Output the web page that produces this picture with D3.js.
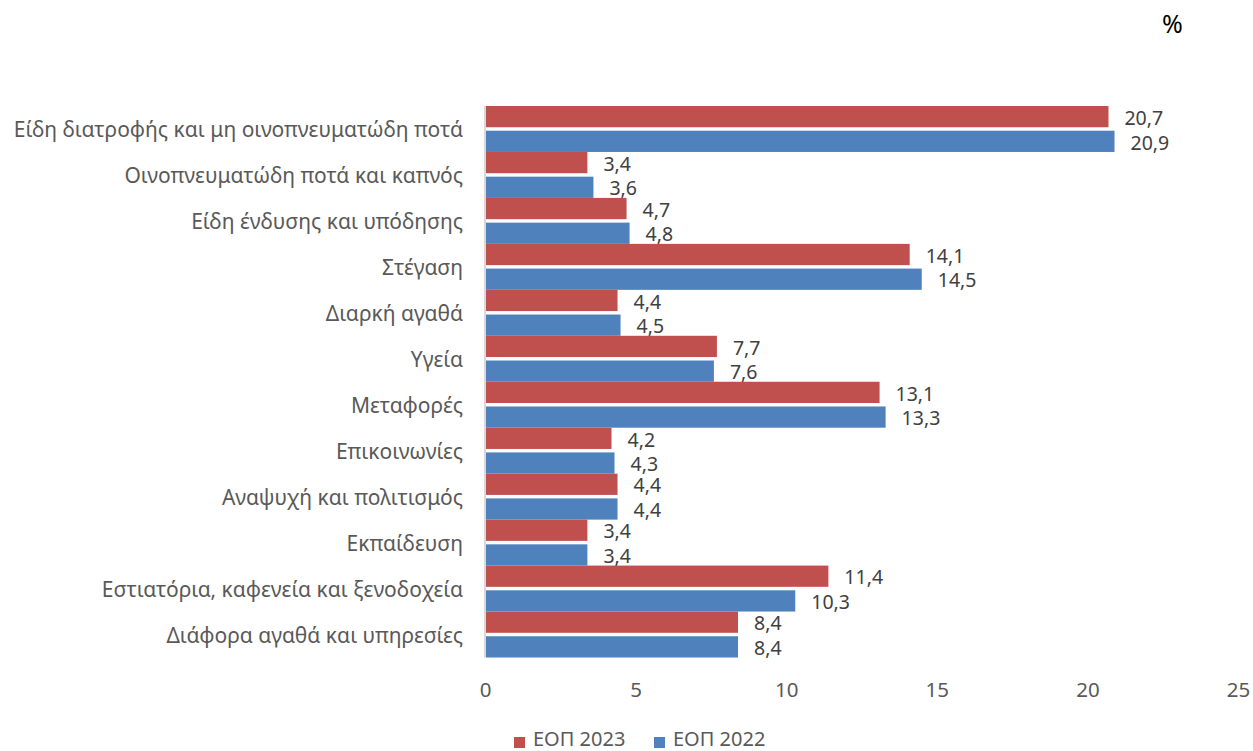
<!DOCTYPE html>
<html><head><meta charset="utf-8">
<script src="https://cdn.jsdelivr.net/npm/d3@7"></script>
<style>body{margin:0;background:#fff}svg{display:block}text{font-family:"Noto Sans","Open Sans",sans-serif}</style>
</head><body><svg id="c" width="1253" height="751"></svg>
<script>
const categories = ["Είδη διατροφής και μη οινοπνευματώδη ποτά","Οινοπνευματώδη ποτά και καπνός","Είδη ένδυσης και υπόδησης","Στέγαση","Διαρκή αγαθά","Υγεία","Μεταφορές","Επικοινωνίες","Αναψυχή και πολιτισμός","Εκπαίδευση","Εστιατόρια, καφενεία  και ξενοδοχεία","Διάφορα αγαθά και υπηρεσίες"];
const seriesNames = ["ΕΟΠ 2023","ΕΟΠ 2022"];
const values2023 = [20.7,3.4,4.7,14.1,4.4,7.7,13.1,4.2,4.4,3.4,11.4,8.4];
const values2022 = [20.9,3.6,4.8,14.5,4.5,7.6,13.3,4.3,4.4,3.4,10.3,8.4];
const xTicks = [0,5,10,15,20,25];
const colors = ["#C0504D","#4F81BD"];

const svg = d3.select("#c");
const x = d3.scaleLinear().domain([0,25]).range([485,1238]);
const y = d3.scaleBand().domain(categories).range([106,657.5]).paddingInner(0).paddingOuter(0);
const ys = d3.scaleBand().domain([0,1]).range([0,y.bandwidth()]).paddingInner(0.14).paddingOuter(0);
const fmt = v => v.toFixed(1).replace(".", ",");
const data = [values2023, values2022];

data.forEach((vals, si) => {
  svg.append("g").selectAll("rect").data(vals).join("rect")
    .attr("x", x(0)+1)
    .attr("y", (d,i) => y(categories[i]) + ys(si))
    .attr("width", d => x(d)-x(0)-1)
    .attr("height", ys.bandwidth())
    .attr("fill", colors[si]);
  svg.append("g").selectAll("text").data(vals).join("text")
    .attr("x", d => x(d)+16)
    .attr("y", (d,i) => y(categories[i]) + ys(si) + ys.bandwidth()/2)
    .attr("dy","0.42em")
    .attr("font-size",19.5)
    .attr("fill","#404040")
    .text(d => fmt(d));
});

// y axis line
svg.append("line").attr("x1",485).attr("x2",485).attr("y1",106).attr("y2",657.5)
  .attr("stroke","#d9d9d9").attr("stroke-width",2);

// category labels
const yAxis = d3.axisLeft(y).tickSize(0).tickPadding(0);
const ga = svg.append("g").attr("transform","translate(463,0)").call(yAxis);
ga.select(".domain").remove();
ga.selectAll("text").attr("font-size",21).attr("fill","#595959").attr("font-family","Noto Sans").attr("dy","0.4em");

// x axis labels
const xAxis = d3.axisBottom(x).tickValues(xTicks).tickSize(0).tickPadding(0).tickFormat(d=>d);
const gx = svg.append("g").attr("transform","translate(0,682.5)").call(xAxis);
gx.select(".domain").remove();
gx.selectAll("text").attr("font-size",20.5).attr("fill","#595959").attr("font-family","Noto Sans");

// percent sign
svg.append("text").attr("x",1162).attr("y",33).attr("font-size",25).attr("fill","#000").text("%");

// legend
const legend = svg.append("g");
const lx = [514, 654];
seriesNames.forEach((n,i)=>{
  legend.append("rect").attr("x",lx[i]).attr("y",737).attr("width",11).attr("height",11).attr("fill",colors[i]);
  legend.append("text").attr("x",lx[i]+19).attr("y",746).attr("font-size",20).attr("fill","#595959").text(n);
});
</script></body></html>
